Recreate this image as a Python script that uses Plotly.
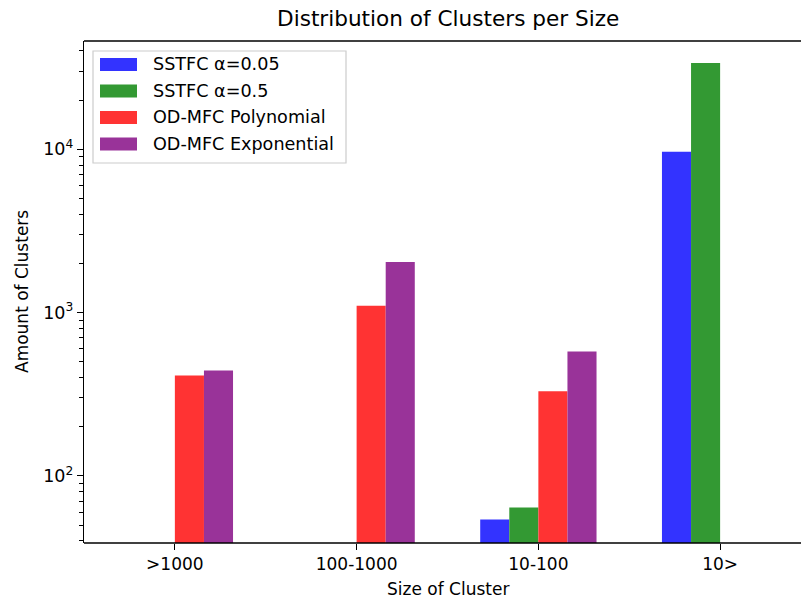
import plotly.graph_objects as go

# Cluster-size buckets and counts per method
categories = [">1000", "100-1000", "10-100", "10>"]
sstfc_005 = [None, None, 54, 9660]
sstfc_05 = [None, None, 64, 33800]
odmfc_poly = [412, 1100, 330, None]
odmfc_exp = [442, 2040, 578, None]

series_names = ["SSTFC α=0.05", "SSTFC α=0.5", "OD-MFC Polynomial", "OD-MFC Exponential"]
series_colors = ["#3333ff", "#339933", "#ff3333", "#993399"]
series_values = [sstfc_005, sstfc_05, odmfc_poly, odmfc_exp]

y_tick_vals = [100, 1000, 10000]
y_tick_text = ["10<sup>2</sup>", "10<sup>3</sup>", "10<sup>4</sup>"]
y_minor_vals = [40, 50, 60, 70, 80, 90, 200, 300, 400, 500, 600, 700, 800, 900,
                2000, 3000, 4000, 5000, 6000, 7000, 8000, 9000, 20000, 30000, 40000]

FONT = "DejaVu Sans"
W, H = 801, 599
L, R, T, B = 84, 10, 41, 56
pw, ph = W - L - R, H - T - B

fig = go.Figure()
for name, color, vals in zip(series_names, series_colors, series_values):
    fig.add_trace(go.Bar(x=categories, y=vals, name=name, marker=dict(color=color, line=dict(width=0)),
                         showlegend=False))

fig.update_layout(
    width=W, height=H,
    margin=dict(l=L, r=R, t=T, b=B, pad=0),
    paper_bgcolor="white", plot_bgcolor="white",
    barmode="group", bargap=0.36, bargroupgap=0,
    font=dict(family=FONT, size=17, color="black"),
    xaxis=dict(type="category", range=[-0.5, 3.39], showgrid=False, zeroline=False,
               showline=False,
               ticks="outside", ticklen=6, tickwidth=1.4, tickcolor="black",
               tickfont=dict(size=17)),
    yaxis=dict(type="log", range=[1.589, 4.663], showgrid=False, zeroline=False,
               showline=True, linecolor="black", linewidth=1.4,
               tickvals=y_tick_vals, ticktext=y_tick_text,
               ticks="outside", ticklen=6, tickwidth=1.4, tickcolor="black",
               tickfont=dict(size=17.5),
               minor=dict(tickvals=y_minor_vals, ticks="outside", ticklen=3.5,
                          tickwidth=1.1, tickcolor="black", showgrid=False)),
)

# Top and bottom spines, running on to the right edge of the page
x_end = 1 + R / pw
for yv in (0, 1):
    fig.add_shape(type="line", xref="paper", yref="paper", x0=0, x1=x_end, y0=yv, y1=yv,
                  line=dict(color="black", width=1.4), layer="above")

# Title and axis labels
fig.add_annotation(text="Distribution of Clusters per Size", xref="paper", yref="paper",
                   x=(448 - L) / pw, y=1, yshift=8, xanchor="center", yanchor="bottom",
                   showarrow=False, font=dict(size=21.6, family=FONT))
fig.add_annotation(text="Size of Cluster", xref="paper", yref="paper",
                   x=(448 - L) / pw, y=0, yshift=-34, xanchor="center", yanchor="top",
                   showarrow=False, font=dict(size=17, family=FONT))
fig.add_annotation(text="Amount of Clusters", xref="paper", yref="paper",
                   x=0, xshift=-62, y=0.5, xanchor="center", yanchor="middle", textangle=-90,
                   showarrow=False, font=dict(size=17, family=FONT))

# Legend box drawn in pixel terms relative to the plot area
def px(x):
    return (x - L) / pw
def py(y):
    return 1 - (y - T) / ph

fig.add_shape(type="rect", xref="paper", yref="paper",
              x0=px(93), x1=px(346), y0=py(163), y1=py(51),
              line=dict(color="#cccccc", width=1.2), fillcolor="rgba(255,255,255,0.8)", layer="above")
row_y = [64.5, 91, 117.5, 144]
for name, color, yc in zip(series_names, series_colors, row_y):
    fig.add_shape(type="rect", xref="paper", yref="paper",
                  x0=px(100), x1=px(137), y0=py(yc + 6.5), y1=py(yc - 6.5),
                  line=dict(width=0), fillcolor=color, layer="above")
    fig.add_annotation(text=name, xref="paper", yref="paper", x=px(151), y=py(yc),
                       xanchor="left", yanchor="middle", showarrow=False,
                       font=dict(size=17.6, family=FONT))

fig.write_html("out.html", config={"displayModeBar": False})
